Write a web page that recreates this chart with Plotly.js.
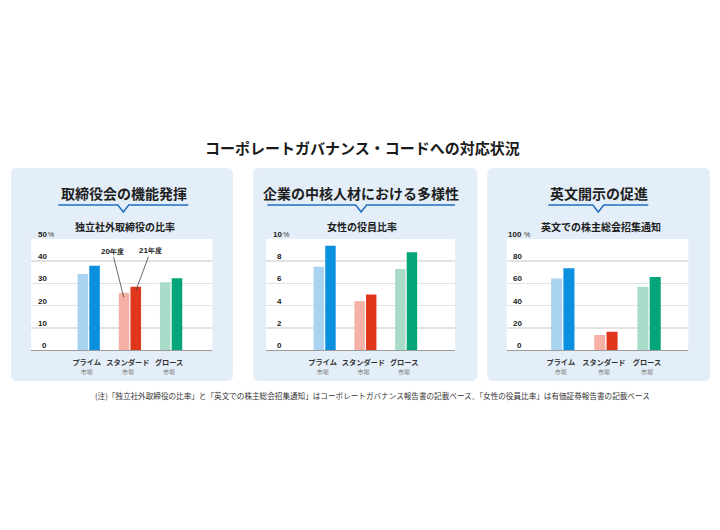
<!DOCTYPE html>
<html><head><meta charset="utf-8">
<script src="https://cdn.plot.ly/plotly-3.0.1.min.js"></script>
<style>html,body{margin:0;padding:0;background:#fff}</style>
</head><body><div id="chart" style="width:720px;height:530px"></div>
<script>
// ---- data ----
const categories = ['プライム', 'スタンダード', 'グロース'];
const categorySub = '市場';
const seriesNames = ['20年度', '21年度'];
const board2020 = [34.2, 25.8, 30.5];
const board2021 = [38.0, 28.5, 32.3];
const women2020 = [7.5, 4.4, 7.3];
const women2021 = [9.4, 5.0, 8.8];
const english2020 = [64.5, 13.5, 57.0];
const english2021 = [73.6, 16.5, 65.8];
const boardTicks = [0, 10, 20, 30, 40, 50];
const womenTicks = [0, 2, 4, 6, 8, 10];
const englishTicks = [0, 20, 40, 60, 80, 100];
const mainTitle = 'コーポレートガバナンス・コードへの対応状況';
const panelHeads = ['取締役会の機能発揮', '企業の中核人材における多様性', '英文開示の促進'];
const panelSubs = ['独立社外取締役の比率', '女性の役員比率', '英文での株主総会招集通知'];
const footnote = '(注)「独立社外取締役の比率」と「英文での株主総会招集通知」はコーポレートガバナンス報告書の記載ベース、「女性の役員比率」は有価証券報告書の記載ベース';

// ---- styles / layout geometry ----
const W = 720, H = 530;
const px = x => x / W;
const py = y => 1 - y / H;
const lightColors = ['#a9d3f1', '#f5b1a6', '#a8dcc9'];
const darkColors = ['#0b90e0', '#e0361c', '#05a57a'];
const JP = '"Noto Sans CJK JP", "Noto Sans", sans-serif';
const NUM = '"Liberation Sans", Arial, sans-serif';

const panels = [
  {box: [11, 168, 233, 381], plot: [31, 239, 212.3, 350], xr: [-1.4, 3.0], line: [58.3, 188.3], headX: 124, subX: 125,
   d0: board2020, d1: board2021, ticks: boardTicks},
  {box: [253.3, 168, 477.3, 381], plot: [266, 239, 455, 350], xr: [-1.44, 3.2], line: [267.3, 455], headX: 360.5, subX: 362,
   d0: women2020, d1: women2021, ticks: womenTicks},
  {box: [487.3, 168, 710, 381], plot: [506.7, 239, 688.3, 350], xr: [-1.3, 2.91], line: [548.3, 648.3], headX: 598.5, subX: 600.5,
   d0: english2020, d1: english2021, ticks: englishTicks}
];

function rr(x0, y0, x1, y1, r) {
  const X = v => px(v), Y = v => py(v);
  return `M${X(x0 + r)},${Y(y0)} L${X(x1 - r)},${Y(y0)} Q${X(x1)},${Y(y0)} ${X(x1)},${Y(y0 + r)} ` +
    `L${X(x1)},${Y(y1 - r)} Q${X(x1)},${Y(y1)} ${X(x1 - r)},${Y(y1)} L${X(x0 + r)},${Y(y1)} ` +
    `Q${X(x0)},${Y(y1)} ${X(x0)},${Y(y1 - r)} L${X(x0)},${Y(y0 + r)} Q${X(x0)},${Y(y0)} ${X(x0 + r)},${Y(y0)} Z`;
}

const tickText = categories.map(c => `${c}<br><span style="font-size:6px;color:#7a7a7a;font-weight:normal">${categorySub}</span>`);

const traces = [];
const shapes = [];
const annotations = [];
const layout = {
  width: W, height: H,
  margin: {l: 0, r: 0, t: 0, b: 0},
  paper_bgcolor: '#ffffff',
  plot_bgcolor: '#ffffff',
  showlegend: false,
  barmode: 'group',
  bargap: 0.43,
  bargroupgap: 0.1,
  font: {family: JP, color: '#222'}
};

panels.forEach((p, i) => {
  const n = i === 0 ? '' : String(i + 1);
  const xa = 'x' + n, ya = 'y' + n;
  [p.d0, p.d1].forEach((d, k) => {
    traces.push({
      type: 'bar', name: seriesNames[k], x: categories, y: d,
      xaxis: xa, yaxis: ya,
      marker: {color: k === 0 ? lightColors : darkColors, line: {width: 0}},
      hoverinfo: 'skip'
    });
  });
  const top = p.ticks[p.ticks.length - 1];
  layout['xaxis' + n] = {
    domain: [px(p.plot[0]), px(p.plot[2])], anchor: ya, type: 'category',
    range: p.xr, showgrid: false, zeroline: false,
    showline: true, linecolor: '#9b9b9b', linewidth: 1, ticks: '',
    tickvals: categories, ticktext: tickText, ticklabelshift: -2, ticklabelstandoff: 5,
    tickfont: {family: JP, size: 7.2, color: '#333', weight: 'bold'}, fixedrange: true
  };
  layout['yaxis' + n] = {
    domain: [py(p.plot[3]), py(p.plot[1])], anchor: xa,
    range: [0, top], tickvals: p.ticks.slice(0, -1), showticklabels: false,
    showgrid: true, gridcolor: '#e2e2e2', gridwidth: 1.5, zeroline: false, showline: false,
    ticks: '', fixedrange: true
  };
  // panel background
  shapes.push({type: 'path', xref: 'paper', yref: 'paper', path: rr(p.box[0], p.box[1], p.box[2], p.box[3], 6),
    fillcolor: '#e3eef8', line: {width: 0}, layer: 'below'});
  shapes.push({type: 'rect', xref: 'paper', yref: 'paper', x0: px(p.plot[0]), x1: px(p.plot[2]),
    y0: py(p.plot[3]), y1: py(p.plot[1]), fillcolor: '#ffffff', line: {width: 0}, layer: 'below'});
  // heading underline with notch
  const cx = (p.line[0] + p.line[1]) / 2, ly = 205;
  shapes.push({type: 'path', xref: 'paper', yref: 'paper',
    path: `M${px(p.line[0])},${py(ly)} L${px(cx - 5.5)},${py(ly)} L${px(cx)},${py(ly + 7)} L${px(cx + 5.5)},${py(ly)} L${px(p.line[1])},${py(ly)}`,
    line: {color: '#1f6fc0', width: 1.5}});
  annotations.push({xref: 'paper', yref: 'paper', x: px(p.headX), y: py(192.5), text: panelHeads[i],
    showarrow: false, xanchor: 'center', yanchor: 'middle',
    font: {family: JP, size: 14, color: '#1e1e1e', weight: 'bold'}});
  annotations.push({xref: 'paper', yref: 'paper', x: px(p.subX), y: py(226.7), text: panelSubs[i],
    showarrow: false, xanchor: 'center', yanchor: 'middle',
    font: {family: JP, size: 10, color: '#1e1e1e', weight: 'bold'}});
  // y tick labels drawn inside the plot, above grid lines
  p.ticks.forEach(v => {
    annotations.push({xref: 'paper', yref: ya, x: px(p.plot[0] + 17.5), y: v, text: String(v),
      showarrow: false, xanchor: 'right', yanchor: 'middle', yshift: 4.5,
      font: {family: NUM, size: 8, color: '#222', weight: 'bold'}});
  });
  annotations.push({xref: 'paper', yref: ya, x: px(p.plot[0] + 15), y: top, text: '%',
    showarrow: false, xanchor: 'left', yanchor: 'middle', yshift: 4.5,
    font: {family: NUM, size: 7, color: '#333'}});
});

// leader annotations for the series names (first panel)
annotations.push({xref: 'x', yref: 'y', x: 1 - 0.15, y: board2020[1] - 2, ax: -11.6, ay: -46,
  text: '20<span style="font-size:6.5px">年度</span>', showarrow: true, arrowhead: 0, arrowwidth: 0.8,
  arrowcolor: '#444', standoff: 0, font: {family: NUM, size: 8, color: '#222', weight: 'bold'}});
annotations.push({xref: 'x', yref: 'y', x: 1 + 0.15, y: board2021[1] - 1.5, ax: 14.6, ay: -39.3,
  text: '21<span style="font-size:6.5px">年度</span>', showarrow: true, arrowhead: 0, arrowwidth: 0.8,
  arrowcolor: '#444', standoff: 0, font: {family: NUM, size: 8, color: '#222', weight: 'bold'}});

annotations.push({xref: 'paper', yref: 'paper', x: px(362.5), y: py(147), text: mainTitle,
  showarrow: false, xanchor: 'center', yanchor: 'middle',
  font: {family: JP, size: 15, color: '#1a1a1a', weight: 'bold'}});
annotations.push({xref: 'paper', yref: 'paper', x: px(372), y: py(396), text: footnote,
  showarrow: false, xanchor: 'center', yanchor: 'middle',
  font: {family: JP, size: 7.6, color: '#333'}});

layout.shapes = shapes;
layout.annotations = annotations;

Plotly.newPlot('chart', traces, layout, {displayModeBar: false, staticPlot: true});
</script>
</body></html>
